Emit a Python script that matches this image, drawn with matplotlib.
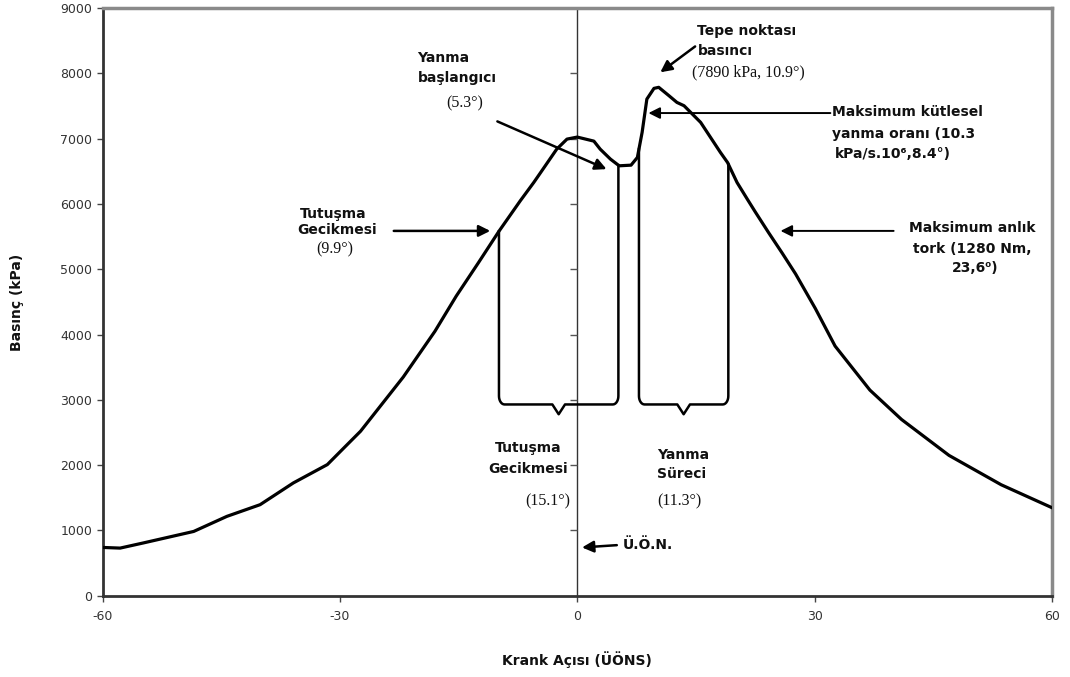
import numpy as np
import matplotlib
matplotlib.use('Agg')
import matplotlib.pyplot as plt

plt.rcParams['axes.unicode_minus'] = False

# krank acisi (derece) ve silindir basinci (kPa)
angle = [-60, -57.8, -54.9, -48.5, -44.3, -40.1, -35.9, -31.6, -29.5, -27.4,
         -22.0, -18.0, -15.3, -12.5, -9.9, -7.2, -5.5, -4.7, -2.6, -1.3,
         0.0, 2.1, 2.9, 4.2, 5.3, 6.8, 7.6, 8.2, 8.8, 9.7,
         10.3, 11.6, 12.6, 13.5, 15.6, 18.1, 19.0, 20.2, 21.5, 22.5,
         24.2, 25.9, 27.6, 30.1, 32.6, 37.0, 41.0, 47.0, 53.6, 60.0]
pressure = [740, 730, 808, 985, 1216, 1395, 1728, 2009, 2265, 2520,
            3350, 4050, 4590, 5100, 5583, 6050, 6330, 6470, 6840, 6994,
            7025, 6963, 6840, 6687, 6585, 6595, 6713, 7097, 7607, 7771,
            7787, 7658, 7556, 7505, 7250, 6790, 6636, 6330, 6074, 5880,
            5560, 5250, 4930, 4400, 3824, 3150, 2700, 2150, 1700, 1350]

x_ticks = [-60, -30, 0, 30, 60]
y_ticks = [0, 1000, 2000, 3000, 4000, 5000, 6000, 7000, 8000, 9000]

# tutusma gecikmesi ve yanma sureci araliklari (derece)
delay_range = [-9.9, 5.2]
burn_range = [7.8, 19.1]
brace_level = 2930

sans = 'DejaVu Sans'
serif = 'Liberation Serif'
ink = '#111111'

fig = plt.figure(figsize=(10.7, 6.77), dpi=100)
ax = fig.add_axes([0.096, 0.12, 0.887, 0.868])

ax.plot(angle, pressure, color='black', lw=2.3, zorder=3)

# U.O.N. dikey cizgisi ve uzerindeki kucuk tikler
ax.axvline(0, color='#333333', lw=1.0, zorder=1)
ax.plot(np.zeros(len(y_ticks) - 2), y_ticks[1:-1], ls='none', marker=0,
        ms=5, color='#555555', mew=1)


def brace(x0, x1, yb):
    xm = (x0 + x1) / 2.
    t = np.linspace(0, np.pi / 2, 8)
    rx, ry = 0.7, 130
    lx = x0 + rx - rx * np.cos(t)
    ly = yb + ry - ry * np.sin(t)
    t2 = t[::-1]
    rxs = x1 - rx + rx * np.cos(t2)
    rys = yb + ry - ry * np.sin(t2)
    ytop0 = np.interp(x0, angle, pressure)
    ytop1 = np.interp(x1, angle, pressure)
    xs = np.concatenate([[x0], lx, [xm - 0.8, xm, xm + 0.8], rxs, [x1]])
    ys = np.concatenate([[ytop0], ly, [yb, yb - 150, yb], rys, [ytop1]])
    ax.plot(xs, ys, color='black', lw=1.8, zorder=2)


brace(delay_range[0], delay_range[1], brace_level)
brace(burn_range[0], burn_range[1], brace_level)

arrow = dict(arrowstyle='-|>', color='black', lw=1.8, mutation_scale=17,
             shrinkA=0, shrinkB=0)
lab = dict(family=sans, fontsize=10, fontweight='bold', color=ink)
num = dict(family=serif, fontsize=11.5, color=ink)

# Yanma baslangici
ax.text(-20.2, 8238, 'Yanma', ha='left', va='center', **lab)
ax.text(-20.2, 7931, 'başlangıcı', ha='left', va='center', **lab)
ax.text(-14.2, 7547, '(5.3°)', ha='center', va='center', **num)
ax.annotate('', xy=(3.7, 6534), xytext=(-10.1, 7265), arrowprops=arrow)

# Tepe noktasi basinci
ax.text(15.2, 8644, 'Tepe noktası', ha='left', va='center', **lab)
ax.text(15.2, 8345, 'basıncı', ha='left', va='center', **lab)
ax.text(14.5, 8023, '(7890 kPa, 10.9°)', ha='left', va='center', **num)
ax.annotate('', xy=(10.5, 8017), xytext=(14.9, 8413), arrowprops=arrow)

# Maksimum kutlesel yanma orani
ax.text(32.2, 7409, 'Maksimum kütlesel', ha='left', va='center', **lab)
ax.text(32.2, 7072, 'yanma oranı (10.3', ha='left', va='center', **lab)
ax.text(32.6, 6765, 'kPa/s.10⁶,8.4°)', ha='left', va='center', **lab)
ax.annotate('', xy=(9.0, 7393), xytext=(32.0, 7393),
            arrowprops=dict(arrow, lw=1.4))

# Maksimum anlik tork
ax.text(50.0, 5630, 'Maksimum anlık', ha='center', va='center', **lab)
ax.text(50.0, 5308, 'tork (1280 Nm,', ha='center', va='center', **lab)
ax.text(50.3, 5016, '23,6⁰)', ha='center', va='center', **lab)
ax.annotate('', xy=(25.7, 5588), xytext=(40.0, 5588),
            arrowprops=dict(arrow, lw=1.4))

# Tutusma gecikmesi (sol)
ax.text(-30.8, 5845, 'Tutuşma', ha='center', va='center', **lab)
ax.text(-30.4, 5599, 'Gecikmesi', ha='center', va='center', **lab)
ax.text(-30.7, 5308, '(9.9°)', ha='center', va='center', **num)
ax.annotate('', xy=(-11.0, 5588), xytext=(-23.2, 5588), arrowprops=arrow)

# braket etiketleri
ax.text(-6.2, 2270, 'Tutuşma', ha='center', va='center', **lab)
ax.text(-6.2, 1940, 'Gecikmesi', ha='center', va='center', **lab)
ax.text(-3.7, 1442, '(15.1°)', ha='center', va='center', **num)
ax.text(10.1, 2163, 'Yanma', ha='left', va='center', **lab)
ax.text(10.1, 1871, 'Süreci', ha='left', va='center', **lab)
ax.text(10.1, 1442, '(11.3°)', ha='left', va='center', **num)

# U.O.N.
ax.text(5.7, 782, 'Ü.Ö.N.', ha='left', va='center', **lab)
ax.annotate('', xy=(0.6, 740), xytext=(5.0, 775), arrowprops=arrow)

ax.set_xlim(-60, 60)
ax.set_ylim(0, 9000)
ax.set_xticks(x_ticks)
ax.set_yticks(y_ticks)
ax.tick_params(axis='both', direction='out', length=4, width=1,
               colors='#444444', labelsize=9, labelcolor='#333333')
ax.tick_params(axis='x', pad=6)
for t in ax.get_xticklabels() + ax.get_yticklabels():
    t.set_family(sans)

ax.set_xlabel('Krank Açısı (ÜÖNS)', family=sans, fontsize=10,
              fontweight='bold', color=ink)
ax.set_ylabel('Basınç (kPa)', family=sans, fontsize=10,
              fontweight='bold', color=ink)
ax.xaxis.set_label_coords(0.5, -0.095)
ax.yaxis.set_label_coords(-0.083, 0.5)

for s in ['left', 'bottom']:
    ax.spines[s].set_color('#333333')
    ax.spines[s].set_linewidth(2)
for s in ['top', 'right']:
    ax.spines[s].set_color('#8a8a8a')
    ax.spines[s].set_linewidth(2.5)

fig.savefig('out.png', dpi=100)
